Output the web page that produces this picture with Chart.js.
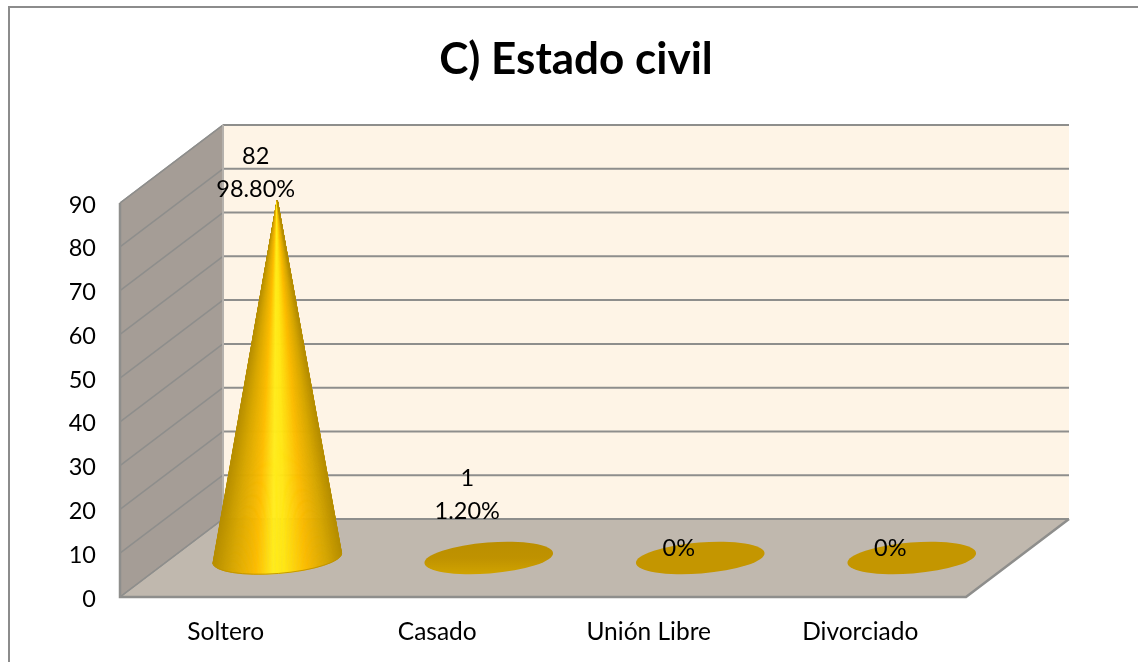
<!DOCTYPE html>
<html><head><meta charset="utf-8">
<style>html,body{margin:0;padding:0;background:#fff}#wrap{width:1138px;height:662px;position:relative}canvas{display:block}</style>
<script src="https://cdn.jsdelivr.net/npm/chart.js@4"></script>
</head><body><div id="wrap"><canvas id="c" width="1138" height="662"></canvas></div>
<script>
const categories = ['Soltero','Casado','Unión Libre','Divorciado'];
const counts = [82,1,0,0];
const percents = ['98.80%','1.20%','0%','0%'];
const yTicks = [0,10,20,30,40,50,60,70,80,90];
const chartTitle = 'C) Estado civil';

const DEPTH_X = 103, DEPTH_Y = 78;
const FONT = 'Lato, Carlito, "Open Sans", sans-serif';
const SHADE = [[0,[182,142,0]],[.14,[214,166,0]],[.33,[253,189,0]],[.46,[255,236,28]],[.55,[255,230,20]],[.72,[251,187,0]],[.88,[214,166,0]],[1,[182,142,0]]];
function shade(f){
  for(let i=1;i<SHADE.length;i++){
    if(f<=SHADE[i][0]){
      const [a,ca]=SHADE[i-1],[b,cb]=SHADE[i],t=(f-a)/(b-a);
      return 'rgb('+ca.map((v,k)=>Math.round(v+(cb[k]-v)*t)).join(',')+')';
    }
  }
  return 'rgb(182,142,0)';
}

class ConeElement extends Chart.BarElement {
  static id = 'coneBar';
  draw(ctx) {
    const {x, y, base, width} = this.getProps(['x','y','base','width']);
    const cx = x + DEPTH_X/2, cy = base - DEPTH_Y/2;
    const apexY = y - DEPTH_Y/2 + 1;
    const rx = width/2, ry = 15.5, rot = -4.5*Math.PI/180;
    ctx.save();
    if (cy - apexY < 20) {
      const g = ctx.createLinearGradient(0, cy-ry, 0, cy+ry);
      if (cy - apexY > 0) { g.addColorStop(0,'#bb8f00'); g.addColorStop(.5,'#bf9200'); g.addColorStop(1,'#cfa200'); }
      else { g.addColorStop(0,'#c49600'); g.addColorStop(1,'#c49600'); }
      ctx.fillStyle = g;
      ctx.beginPath(); ctx.ellipse(cx, cy, rx, ry, rot, 0, Math.PI*2); ctx.fill();
    } else {
      const N = 140, cr = Math.cos(rot), sr = Math.sin(rot);
      const pt = th => [cx + rx*Math.cos(th)*cr - ry*Math.sin(th)*sr, cy + rx*Math.cos(th)*sr + ry*Math.sin(th)*cr];
      ctx.lineWidth = .7;
      for (let i=0;i<N;i++){
        const th0 = Math.PI - Math.PI*i/N, th1 = Math.PI - Math.PI*(i+1)/N;
        const p0 = pt(th0), p1 = pt(th1);
        const f = (1 - Math.cos((th0+th1)/2))/2;
        const col = shade(1 - f);
        ctx.fillStyle = col; ctx.strokeStyle = col;
        ctx.beginPath(); ctx.moveTo(cx, apexY); ctx.lineTo(p0[0],p0[1]); ctx.lineTo(p1[0],p1[1]); ctx.closePath();
        ctx.fill(); ctx.stroke();
      }
      ctx.strokeStyle = 'rgba(190,145,0,.9)';
      ctx.lineWidth = 1;
      ctx.beginPath(); ctx.ellipse(cx, cy, rx, ry, rot, Math.PI, 0, true); ctx.stroke();
    }
    ctx.restore();
  }
}
class ConeController extends Chart.BarController {
  static id = 'cone';
  static defaults = {...Chart.BarController.defaults, dataElementType: 'coneBar'};
  static overrides = Chart.BarController.overrides;
}
Chart.register(ConeElement, ConeController);

const room = {
  id: 'room',
  afterLayout(chart) {
    chart.scales.y.getLabelItems().forEach(it => { it.options.translation[1] += 2; });
  },
  beforeDraw(chart) {
    const {ctx, chartArea: a, scales} = chart;
    const L=a.left, R=a.right, B=a.bottom, T=a.top, dx=DEPTH_X, dy=DEPTH_Y;
    ctx.save();
    ctx.strokeStyle='#8c8c8c'; ctx.lineWidth=2;
    ctx.beginPath(); ctx.moveTo(9,662); ctx.lineTo(9,7); ctx.lineTo(1138,7); ctx.stroke();
    ctx.fillStyle='#fef4e6'; ctx.fillRect(L+dx,T-dy,R-L,B-T);
    ctx.fillStyle='#a59d96';
    ctx.beginPath(); ctx.moveTo(L,T); ctx.lineTo(L+dx,T-dy); ctx.lineTo(L+dx,B-dy); ctx.lineTo(L,B); ctx.closePath(); ctx.fill();
    ctx.fillStyle='#c0b8ae';
    ctx.beginPath(); ctx.moveTo(L,B); ctx.lineTo(R,B); ctx.lineTo(R+dx,B-dy); ctx.lineTo(L+dx,B-dy); ctx.closePath(); ctx.fill();
    scales.y.ticks.forEach((t,i)=>{
      const y = scales.y.getPixelForTick(i);
      ctx.strokeStyle='#8e8e8c'; ctx.lineWidth=1.5;
      ctx.beginPath(); ctx.moveTo(L,y); ctx.lineTo(L+dx,y-dy); ctx.stroke();
      ctx.lineWidth=2;
      ctx.beginPath(); ctx.moveTo(L+dx,y-dy); ctx.lineTo(R+dx,y-dy); ctx.stroke();
    });
    ctx.strokeStyle='#8e8e8c'; ctx.lineWidth=2.5;
    ctx.beginPath(); ctx.moveTo(L,T); ctx.lineTo(L,B); ctx.lineTo(R,B); ctx.lineTo(R+dx,B-dy); ctx.stroke();
    ctx.lineWidth=1.5;
    ctx.beginPath(); ctx.moveTo(L,T); ctx.lineTo(L+dx,T-dy); ctx.stroke();
    ctx.beginPath(); ctx.moveTo(L,B); ctx.lineTo(L+dx,B-dy); ctx.stroke();
    ctx.strokeStyle='#b5b1ac'; ctx.lineWidth=2;
    ctx.beginPath(); ctx.moveTo(L+dx,T-dy); ctx.lineTo(L+dx,B-dy); ctx.stroke();
    ctx.restore();
  }
};

const coneLabels = {
  id: 'coneLabels',
  afterDatasetsDraw(chart, args, opts) {
    const {ctx} = chart;
    const meta = chart.getDatasetMeta(0);
    ctx.save();
    ctx.fillStyle='#000'; ctx.font='23.5px '+FONT; ctx.textAlign='center'; ctx.textBaseline='middle';
    meta.data.forEach((el,i)=>{
      const lines = counts[i] > 0 ? [String(counts[i]), percents[i]] : [percents[i]];
      const lift = opts.lift[i];
      const x = el.x + opts.shift;
      lines.forEach((s,k)=>{
        ctx.fillText(s, x, el.y - lift - (lines.length-1-k)*opts.lineGap);
      });
    });
    ctx.restore();
  }
};

new Chart(document.getElementById('c'), {
  type: 'cone',
  data: { labels: categories, datasets: [{ label: 'Estado civil', data: counts, backgroundColor:'#ffc000', categoryPercentage:1, barPercentage:0.61, clip:false }] },
  plugins: [room, coneLabels],
  options: {
    responsive:false, animation:false,
    layout:{padding:{left:14,right:0,top:0,bottom:0}},
    plugins:{
      legend:{display:false}, tooltip:{enabled:false},
      title:{display:true,text:chartTitle,color:'#000',font:{family:FONT,size:44,weight:'bold'},padding:{top:33.5,bottom:116.7}},
      coneLabels:{shift:30,lineGap:33,lift:[49,81,49,49]}
    },
    scales:{
      x:{type:'category',offset:true,grid:{display:false,drawTicks:false},border:{display:false},
         ticks:{color:'#000',font:{family:FONT,size:24.5},padding:20,maxRotation:0},
         afterFit(s){s.height=65;}},
      y:{type:'linear',min:0,max:90,grid:{display:false,drawTicks:false},border:{display:false},
         ticks:{stepSize:10,color:'#000',font:{family:FONT,size:23.5},padding:24,callback:v=>yTicks.includes(v)?String(v):''},
         afterFit(s){s.width=106;}},
      y2:{type:'linear',position:'right',grid:{display:false},border:{display:false},ticks:{display:false},
         afterFit(s){s.width=172;}}
    }
  }
});
</script></body></html>
